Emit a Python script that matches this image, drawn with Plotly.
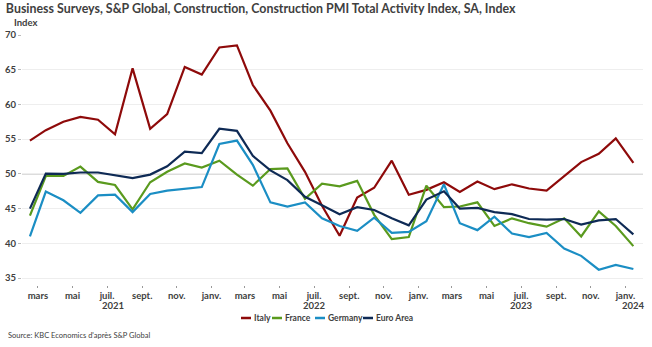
import pandas as pd
import plotly.graph_objects as go

# ---- data (monthly, Feb 2021 .. Jan 2024) ----
start_month = "2021-02-01"
n_months = 36
italy = [54.8, 56.3, 57.5, 58.2, 57.8, 55.7, 65.2, 56.5, 58.6, 65.4, 64.3, 68.2,
         68.5, 62.8, 59.1, 54.4, 50.3, 45.4, 41.1, 46.6, 48.0, 51.9, 47.0, 47.7,
         48.8, 47.4, 48.9, 47.8, 48.5, 47.9, 47.6, 49.7, 51.7, 52.9, 55.1, 51.6]
france = [44.0, 49.7, 49.7, 51.05, 48.85, 48.4, 44.9, 48.8, 50.3, 51.5, 50.9, 51.9,
          49.9, 48.3, 50.7, 50.8, 46.4, 48.6, 48.2, 49.0, 44.1, 40.6, 40.9, 48.3,
          45.2, 45.3, 45.9, 42.5, 43.6, 42.9, 42.4, 43.6, 41.0, 44.6, 42.5, 39.6]
germany = [41.0, 47.45, 46.2, 44.4, 46.9, 47.0, 44.5, 47.1, 47.6, 47.8, 48.1, 54.3,
           54.8, 51.3, 45.9, 45.3, 45.9, 43.6, 42.5, 41.8, 43.7, 41.5, 41.65, 43.2,
           48.5, 42.9, 41.9, 43.85, 41.4, 40.9, 41.5, 39.25, 38.2, 36.2, 36.9, 36.3]
euro_area = [45.0, 50.05, 50.0, 50.2, 50.2, 49.8, 49.4, 49.9, 51.1, 53.2, 53.0, 56.5,
             56.2, 52.6, 50.5, 49.1, 46.7, 45.5, 44.2, 45.2, 44.8, 43.6, 42.6, 46.3,
             47.5, 45.0, 45.1, 44.5, 44.2, 43.5, 43.4, 43.5, 42.7, 43.3, 43.5, 41.3]

series_names = ["Italy", "France", "Germany", "Euro Area"]
series_values = [italy, france, germany, euro_area]
series_colors = ["#8E0A0A", "#5A9A1E", "#1B8EC4", "#0E2A55"]

tick_dates = pd.date_range("2021-03-01", "2024-01-01", freq="2MS")
tick_labels = ["mars", "mai", "juil.", "sept.", "nov.", "janv."] * 6
year_labels = ["2021", "2022", "2023", "2024"]
year_positions = ["2021-07-12", "2022-07-01", "2023-07-01", "2024-01-15"]

y_ticks = [35, 40, 45, 50, 55, 60, 65, 70]

# mid-month positions
dates = pd.date_range(start_month, periods=n_months, freq="MS") + pd.Timedelta(days=14)

FONT = "Lato"
TXT = "#404040"
W, H = 652, 347
ML, MR, MT, MB = 22, 9, 35, 62
PW, PH = W - ML - MR, H - MT - MB


def px_x(p):
    return (p - ML) / PW


def px_y(p):
    return (H - MB - p) / PH


fig = go.Figure()
for name, vals, col in zip(series_names, series_values, series_colors):
    fig.add_trace(go.Scatter(x=dates, y=vals, name=name, mode="lines",
                             line=dict(color=col, width=2.2), showlegend=False))

fig.add_shape(type="line", xref="paper", x0=0, x1=1, yref="y", y0=50, y1=50,
              line=dict(color="#a3a3a3", width=1), layer="below")

annotations = [
    dict(text="<b>Index</b>", xref="paper", yref="paper", x=px_x(12), y=px_y(23),
         xanchor="left", yanchor="middle", showarrow=False,
         font=dict(size=9.5, color=TXT, family=FONT)),
    dict(text="Source: KBC Economics d'après S&P Global", xref="paper", yref="paper",
         x=px_x(6), y=px_y(335), xanchor="left", yanchor="middle", showarrow=False,
         font=dict(size=7.5, color=TXT, family=FONT)),
]
for yl, yp in zip(year_labels, year_positions):
    annotations.append(dict(text="<b>" + yl + "</b>", xref="x", yref="paper",
                            x=yp, y=px_y(305), xanchor="center", yanchor="middle",
                            showarrow=False,
                            font=dict(size=9.5, color=TXT, family=FONT)))

# compact legend: short line key + label
legend_key_x = [241, 272, 315, 363]
legend_y = 318
for name, col, kx in zip(series_names, series_colors, legend_key_x):
    fig.add_shape(type="line", xref="paper", yref="paper",
                  x0=px_x(kx), x1=px_x(kx + 10), y0=px_y(legend_y), y1=px_y(legend_y),
                  line=dict(color=col, width=2.5))
    annotations.append(dict(text="<b>" + name + "</b>", xref="paper", yref="paper",
                            x=px_x(kx + 11), y=px_y(legend_y), xanchor="left",
                            yanchor="middle", showarrow=False,
                            font=dict(size=8.5, color=TXT, family=FONT)))

fig.update_layout(
    width=W, height=H,
    margin=dict(l=ML, r=MR, t=MT, b=MB, autoexpand=False),
    paper_bgcolor="white", plot_bgcolor="white",
    font=dict(family=FONT, color=TXT),
    title=dict(text="<b>Business Surveys, S&P Global, Construction, Construction PMI Total Activity Index, SA, Index</b>",
               xref="container", yref="container", x=0.009, y=1 - 9 / H,
               xanchor="left", yanchor="middle",
               font=dict(size=12.4, color=TXT, family=FONT)),
    showlegend=False,
    annotations=annotations,
    xaxis=dict(type="date", range=["2021-02-01", "2024-02-01"],
               tickvals=tick_dates, ticktext=["<b>" + t + "</b>" for t in tick_labels],
               ticks="outside", ticklen=2, tickcolor="#999999",
               showgrid=False, showline=False, zeroline=False, automargin=False,
               tickfont=dict(size=9.5, color=TXT, family=FONT)),
    yaxis=dict(range=[34, 70], tickvals=y_ticks,
               ticktext=["<b>%d</b>" % v for v in y_ticks],
               ticks="outside", ticklen=3, tickcolor="#bbbbbb",
               showgrid=True, gridcolor="#eeeeee", gridwidth=1,
               showline=False, zeroline=False, automargin=False,
               tickfont=dict(size=9.5, color=TXT, family=FONT)),
)

fig.write_html("out.html")
